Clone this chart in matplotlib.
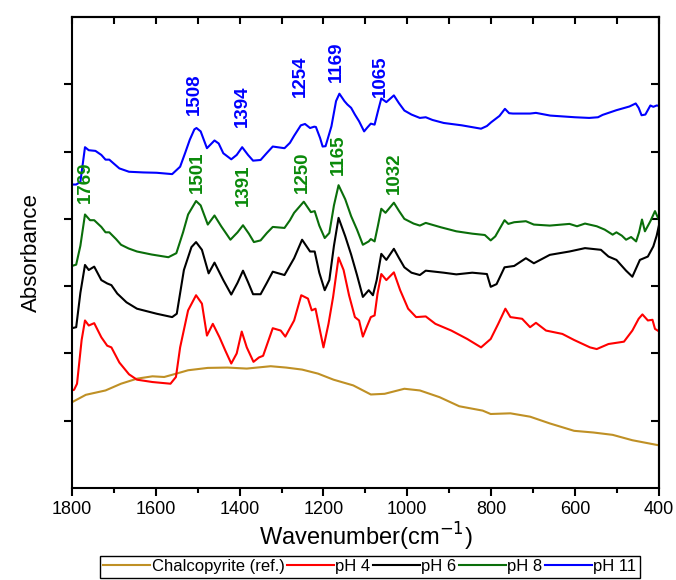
import matplotlib.pyplot as plt

plt.rcParams['font.family'] = ['Liberation Sans', 'DejaVu Sans']

# Espectros FTIR (numero de onda, absorbancia desplazada)

wn_ref = [1800, 1767, 1720, 1683, 1645, 1608, 1580, 1551, 1523, 1476, 1429, 1383, 1326, 1289,
          1251, 1213, 1176, 1129, 1087, 1054, 1007, 970, 923, 876, 820, 801, 754, 707, 660,
          602, 556, 510, 463, 400]
abs_ref = [1.275, 1.385, 1.45, 1.55, 1.625, 1.66, 1.65, 1.70, 1.75, 1.785, 1.79, 1.775, 1.81, 1.79,
           1.76, 1.70, 1.61, 1.525, 1.39, 1.40, 1.475, 1.45, 1.35, 1.215, 1.15, 1.10, 1.11, 1.06, 0.96,
           0.85, 0.825, 0.79, 0.71, 0.635]

wn_ph4 = [1800, 1795, 1788, 1777, 1769, 1760, 1747, 1730, 1716, 1706, 1687, 1664, 1645, 1608,
          1565, 1552, 1542, 1523, 1504, 1490, 1478, 1464, 1448, 1434, 1420, 1407, 1395, 1383,
          1367, 1354, 1344, 1321, 1302, 1291, 1270, 1253, 1237, 1228, 1219, 1210, 1200, 1188,
          1177, 1164, 1152, 1139, 1125, 1115, 1106, 1097, 1087, 1078, 1071, 1062, 1050, 1032,
          1017, 998, 979, 956, 933, 895, 857, 824, 801, 783, 766, 754, 726, 707, 693, 669,
          630, 602, 564, 548, 520, 483, 463, 448, 439, 426, 415, 409, 400]
abs_ph4 = [1.45, 1.46, 1.55, 2.2, 2.49, 2.415, 2.45, 2.24, 2.115, 2.09, 1.865, 1.69, 1.61, 1.575,
           1.55, 1.65, 2.09, 2.64, 2.865, 2.74, 2.265, 2.44, 2.24, 2.04, 1.85, 2.0, 2.325, 2.09,
           1.875, 1.94, 1.965, 2.375, 2.34, 2.25, 2.49, 2.865, 2.815, 2.64, 2.665, 2.39, 2.09, 2.44,
           2.84, 3.425, 3.24, 2.865, 2.54, 2.49, 2.25, 2.39, 2.54, 2.565, 2.89, 3.18, 3.09, 3.205,
           2.94, 2.665, 2.54, 2.55, 2.44, 2.34, 2.215, 2.09, 2.215, 2.44, 2.665, 2.54, 2.515, 2.39,
           2.455, 2.34, 2.29, 2.2, 2.09, 2.065, 2.14, 2.175, 2.34, 2.515, 2.58, 2.49, 2.50, 2.365, 2.33]

wn_ph6 = [1800, 1790, 1780, 1769, 1760, 1747, 1730, 1716, 1706, 1692, 1670, 1645, 1598, 1561,
          1550, 1533, 1515, 1504, 1490, 1474, 1460, 1439, 1420, 1405, 1392, 1380, 1368, 1350,
          1335, 1321, 1293, 1270, 1251, 1232, 1221, 1210, 1197, 1186, 1175, 1164, 1148, 1134,
          1120, 1106, 1092, 1082, 1073, 1062, 1050, 1032, 1020, 1007, 990, 970, 956, 913, 883,
          845, 810, 801, 787, 768, 745, 717, 698, 660, 613, 576, 538, 520, 501, 478, 463, 445,
          426, 413, 405, 400]
abs_ph6 = [2.375, 2.39, 2.9, 3.315, 3.24, 3.29, 3.09, 3.04, 3.015, 2.89, 2.76, 2.665, 2.59, 2.54,
           2.59, 3.24, 3.58, 3.655, 3.54, 3.19, 3.35, 3.09, 2.875, 3.05, 3.23, 3.06, 2.88, 2.88,
           3.05, 3.215, 3.165, 3.415, 3.69, 3.515, 3.515, 3.2, 2.94, 3.09, 3.6, 4.015, 3.74, 3.47,
           3.165, 2.84, 2.94, 2.865, 3.09, 3.48, 3.39, 3.555, 3.42, 3.28, 3.2, 3.165, 3.23, 3.2, 3.175,
           3.2, 3.18, 2.99, 3.03, 3.28, 3.30, 3.415, 3.34, 3.465, 3.515, 3.565, 3.54, 3.44, 3.39, 3.23,
           3.14, 3.39, 3.44, 3.59, 3.75, 3.89]

wn_ph8 = [1800, 1790, 1780, 1769, 1757, 1747, 1730, 1720, 1711, 1695, 1683, 1665, 1645, 1610,
          1570, 1551, 1535, 1523, 1504, 1493, 1476, 1460, 1444, 1422, 1405, 1392, 1378, 1366,
          1350, 1335, 1321, 1293, 1280, 1270, 1247, 1230, 1221, 1210, 1197, 1186, 1175, 1164,
          1148, 1134, 1120, 1106, 1092, 1087, 1078, 1070, 1062, 1052, 1032, 1020, 1007, 985, 970,
          956, 920, 883, 845, 815, 801, 790, 768, 759, 745, 717, 698, 660, 613, 595, 576, 548,
          529, 510, 501, 488, 478, 466, 454, 447, 440, 433, 420, 409, 400]
abs_ph8 = [3.30, 3.32, 3.6, 4.065, 3.98, 3.98, 3.88, 3.80, 3.80, 3.70, 3.615, 3.56, 3.515, 3.47,
           3.43, 3.49, 3.8, 4.065, 4.265, 4.20, 3.915, 4.05, 3.89, 3.69, 3.8, 3.905, 3.78, 3.655,
           3.68, 3.79, 3.88, 3.865, 3.98, 4.09, 4.255, 4.10, 4.115, 3.9, 3.715, 3.79, 4.2, 4.50,
           4.29, 4.04, 3.84, 3.615, 3.665, 3.70, 3.665, 3.9, 4.15, 4.09, 4.24, 4.12, 4.0, 3.93, 3.90,
           3.94, 3.875, 3.815, 3.78, 3.76, 3.68, 3.74, 3.98, 3.925, 3.95, 3.965, 3.915, 3.90, 3.925,
           3.89, 3.93, 3.89, 3.84, 3.765, 3.80, 3.75, 3.69, 3.73, 3.665, 3.80, 3.99, 3.815, 3.965,
           4.115, 3.99]

wn_ph11 = [1800, 1790, 1780, 1769, 1760, 1744, 1730, 1720, 1711, 1700, 1687, 1664, 1630, 1598,
           1561, 1542, 1530, 1519, 1508, 1503, 1493, 1478, 1460, 1450, 1439, 1420, 1407, 1394,
           1380, 1368, 1350, 1335, 1321, 1293, 1280, 1270, 1254, 1244, 1232, 1222, 1218, 1208,
           1202, 1195, 1181, 1170, 1162, 1150, 1143, 1134, 1125, 1115, 1103, 1095, 1087, 1078,
           1070, 1062, 1050, 1040, 1032, 1020, 1007, 990, 970, 956, 940, 913, 870, 824, 810, 800,
           780, 767, 757, 748, 720, 707, 693, 659, 600, 566, 545, 534, 501, 470, 455, 448, 441,
           432, 420, 413, 405, 400]
abs_ph11 = [4.51, 4.51, 4.55, 5.065, 5.02, 5.01, 4.95, 4.88, 4.88, 4.82, 4.75, 4.70, 4.69, 4.685,
            4.665, 4.775, 4.98, 5.175, 5.33, 5.35, 5.30, 5.05, 5.165, 5.12, 4.975, 4.885, 4.95, 5.065,
            4.95, 4.865, 4.875, 4.98, 5.075, 5.05, 5.13, 5.235, 5.39, 5.41, 5.35, 5.37, 5.365, 5.2,
            5.075, 5.08, 5.375, 5.75, 5.86, 5.75, 5.70, 5.65, 5.55, 5.45, 5.30, 5.36, 5.415, 5.40,
            5.6, 5.79, 5.735, 5.79, 5.835, 5.72, 5.61, 5.55, 5.50, 5.51, 5.47, 5.425, 5.39, 5.34, 5.38,
            5.435, 5.53, 5.635, 5.57, 5.565, 5.565, 5.565, 5.575, 5.535, 5.51, 5.50, 5.51, 5.545,
            5.615, 5.67, 5.715, 5.65, 5.54, 5.55, 5.685, 5.665, 5.685, 5.68]

# Picos marcados
picos_ph11 = [1508, 1394, 1254, 1169, 1065]
y_ph11 = [5.85, 5.67, 6.125, 6.335, 6.125]
picos_ph8 = [1769, 1501, 1391, 1250, 1165, 1032]
y_ph8 = [4.55, 4.695, 4.50, 4.695, 4.95, 4.685]

fig = plt.figure(figsize=(6.76, 5.80), dpi=100)
ax = fig.add_axes([0.1065, 0.1586, 0.868, 0.8121])

ax.plot(wn_ref, abs_ref, color='#BF9025', lw=1.5, label='Chalcopyrite (ref.)')
ax.plot(wn_ph4, abs_ph4, color='red', lw=1.5, label='pH 4')
ax.plot(wn_ph6, abs_ph6, color='black', lw=1.5, label='pH 6')
ax.plot(wn_ph8, abs_ph8, color='#0A6E0A', lw=1.5, label='pH 8')
ax.plot(wn_ph11, abs_ph11, color='blue', lw=1.5, label='pH 11')

for p, y in zip(picos_ph11, y_ph11):
    ax.text(p, y, str(p), color='blue', rotation=90, ha='center', va='center',
            fontsize=13.5, fontweight='bold')
for p, y in zip(picos_ph8, y_ph8):
    ax.text(p, y, str(p), color='#0A8A0A', rotation=90, ha='center', va='center',
            fontsize=13.5, fontweight='bold')

ax.set_xlim(1800, 400)
ax.set_ylim(0, 7)
ax.set_xticks([1800, 1600, 1400, 1200, 1000, 800, 600, 400])
ax.set_xticks(range(1700, 400, -200), minor=True)
ax.set_yticks([1, 2, 3, 4, 5, 6])
ax.set_yticklabels([])

ax.tick_params(axis='x', which='major', direction='out', length=6, width=1.5, labelsize=13, top=False)
ax.tick_params(axis='x', which='minor', direction='out', length=3.5, width=1.5)
ax.tick_params(axis='y', direction='out', length=6, width=1.5)
ax.tick_params(right=False)
for s in ax.spines.values():
    s.set_linewidth(1.5)

# Ticks espejo hacia adentro (arriba y derecha)
sec_x = ax.secondary_xaxis('top')
sec_x.set_xticks([1800, 1600, 1400, 1200, 1000, 800, 600, 400])
sec_x.set_xticks(range(1700, 400, -200), minor=True)
sec_x.tick_params(which='both', direction='in', length=5, width=1.5, labeltop=False)
sec_x.spines['top'].set_linewidth(1.5)
sec_y = ax.secondary_yaxis('right')
sec_y.set_yticks([1, 2, 3, 4, 5, 6])
sec_y.tick_params(direction='in', length=6, width=1.5, labelright=False)
sec_y.spines['right'].set_linewidth(1.5)

ax.set_xlabel('Wavenumber(cm$^{-1}$)', fontsize=17, labelpad=2)
ax.set_ylabel('Absorbance', fontsize=16, labelpad=12)

# Leyenda en una fila bajo el eje
fig.legend(loc='upper center', bbox_to_anchor=(0.547, 0.0414), ncol=5, fontsize=12,
           frameon=True, fancybox=False, edgecolor='black', framealpha=1, borderaxespad=0,
           handlelength=2.8, handletextpad=0.1, columnspacing=0.15, borderpad=0.2)

fig.savefig('out.png', dpi=100)
